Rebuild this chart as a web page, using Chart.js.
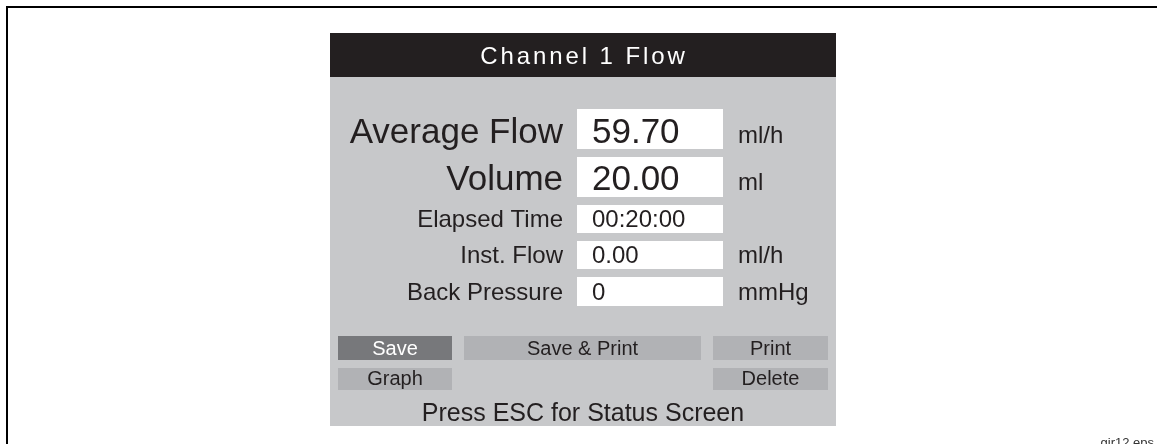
<!DOCTYPE html>
<html>
<head>
<meta charset="utf-8">
<script src="https://cdn.jsdelivr.net/npm/chart.js@4"></script>
<style>
  html, body { margin: 0; padding: 0; background: #fff; }
  #wrap { width: 1157px; height: 444px; position: relative; }
</style>
</head>
<body>
<div id="wrap"><canvas id="screenChart"></canvas></div>
<script>
// data
const screenTitle = "Channel 1 Flow";
const fieldLabels = ["Average Flow", "Volume", "Elapsed Time", "Inst. Flow", "Back Pressure"];
const fieldValues = ["59.70", "20.00", "00:20:00", "0.00", "0"];
const fieldUnits = ["ml/h", "ml", "", "ml/h", "mmHg"];
const buttonLabels = ["Save", "Save & Print", "Print", "Graph", "Delete"];
const footerText = "Press ESC for Status Screen";
const figureTag = "gir12.eps";

const FONT = '"Liberation Sans", Arial, Helvetica, sans-serif';

// row layout (top, bottom of white box, text baseline, font size)
const rows = [
    { top: 109, bottom: 149, base: 143, size: 35 },
    { top: 157, bottom: 197, base: 190, size: 35 },
    { top: 205, bottom: 233, base: 227, size: 24 },
    { top: 241, bottom: 269, base: 263, size: 24 },
    { top: 277, bottom: 306, base: 300, size: 24 }
];
const buttons = [
    { x0: 338, x1: 452, y0: 336, y1: 360, bg: "#77787b", fg: "#ffffff" },
    { x0: 464, x1: 701, y0: 336, y1: 360, bg: "#b1b2b5", fg: "#231f20" },
    { x0: 713, x1: 828, y0: 336, y1: 360, bg: "#b1b2b5", fg: "#231f20" },
    { x0: 338, x1: 452, y0: 368, y1: 390, bg: "#b1b2b5", fg: "#231f20" },
    { x0: 713, x1: 828, y0: 368, y1: 390, bg: "#b1b2b5", fg: "#231f20" }
];

const screenPanel = {
    id: "screenPanel",
    beforeDraw(chart) {
        const ctx = chart.ctx;
        const labels = chart.data.labels;
        const values = chart.data.datasets[0].values;
        ctx.save();
        ctx.fillStyle = "#ffffff";
        ctx.fillRect(0, 0, chart.width, chart.height);

        // outer frame
        ctx.strokeStyle = "#000";
        ctx.lineWidth = 2;
        ctx.beginPath();
        ctx.moveTo(7, chart.height + 2);
        ctx.lineTo(7, 7);
        ctx.lineTo(chart.width + 2, 7);
        ctx.stroke();

        // panel
        ctx.fillStyle = "#c7c8ca";
        ctx.fillRect(330, 77, 506, 349);
        ctx.fillStyle = "#231f20";
        ctx.fillRect(330, 33, 506, 44);

        // title
        ctx.fillStyle = "#ffffff";
        ctx.font = "24px " + FONT;
        ctx.letterSpacing = "2.9px";
        ctx.textAlign = "center";
        ctx.textBaseline = "alphabetic";
        ctx.fillText(screenTitle, 584, 64);
        ctx.letterSpacing = "0px";

        // field rows
        labels.forEach((lab, i) => {
            const r = rows[i];
            ctx.fillStyle = "#ffffff";
            ctx.fillRect(577, r.top, 146, r.bottom - r.top);
            ctx.fillStyle = "#231f20";
            ctx.font = r.size + "px " + FONT;
            ctx.textAlign = "right";
            ctx.fillText(lab, 563, r.base);
            ctx.textAlign = "left";
            ctx.fillText(values[i], 592, r.base);
            if (fieldUnits[i]) {
                ctx.font = "24px " + FONT;
                ctx.fillText(fieldUnits[i], 738, r.base);
            }
        });

        // buttons
        ctx.font = "20px " + FONT;
        ctx.textAlign = "center";
        buttonLabels.forEach((b, i) => {
            const bt = buttons[i];
            ctx.fillStyle = bt.bg;
            ctx.fillRect(bt.x0, bt.y0, bt.x1 - bt.x0, bt.y1 - bt.y0);
            ctx.fillStyle = bt.fg;
            ctx.fillText(b, (bt.x0 + bt.x1) / 2, bt.y1 - 5);
        });

        // footer
        ctx.fillStyle = "#231f20";
        ctx.font = "25px " + FONT;
        ctx.fillText(footerText, 583, 421);

        // figure tag
        ctx.fillStyle = "#333";
        ctx.font = "13px " + FONT;
        ctx.textAlign = "right";
        ctx.fillText(figureTag, 1154, 447);
        ctx.restore();
    }
};

new Chart(document.getElementById("screenChart"), {
    type: "bar",
    data: {
        labels: fieldLabels,
        datasets: [{
            label: screenTitle,
            data: fieldValues.map(v => parseFloat(v)),
            values: fieldValues,
            hidden: true
        }]
    },
    options: {
        responsive: true,
        maintainAspectRatio: false,
        animation: false,
        events: [],
        layout: { padding: 0 },
        scales: { x: { display: false }, y: { display: false } },
        plugins: { legend: { display: false }, tooltip: { enabled: false } }
    },
    plugins: [screenPanel]
});
</script>
</body>
</html>
